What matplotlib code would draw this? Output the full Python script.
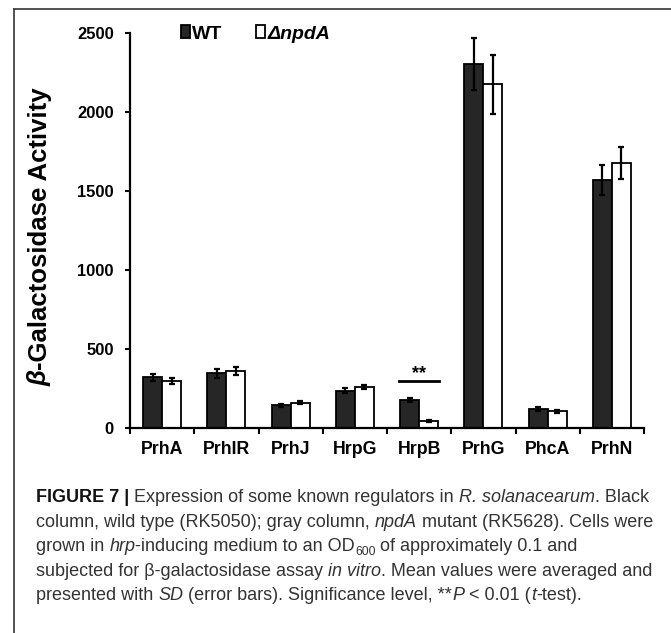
import matplotlib
matplotlib.use('Agg')
import matplotlib.pyplot as plt
import numpy as np
from matplotlib.lines import Line2D
from matplotlib import font_manager

# ---------------- data ----------------
categories = ['PrhA', 'PrhIR', 'PrhJ', 'HrpG', 'HrpB', 'PrhG', 'PhcA', 'PrhN']
wt_values = [320, 345, 143, 236, 175, 2305, 120, 1570]
wt_err = [20, 27, 10, 15, 12, 165, 10, 95]
mut_values = [299, 362, 160, 257, 45, 2175, 105, 1677]
mut_err = [18, 27, 8, 12, 8, 185, 8, 100]
series_labels = ['WT', 'ΔnpdA']
yticks = [0, 500, 1000, 1500, 2000, 2500]
sig_index = 4
sig_level = 300
sig_text = '**'
ylabel_pieces = [('β', 'bi'), ('-Galactosidase Activity', 'b')]

caption_lines = [
    [('FIGURE 7 |', 'b'), (' Expression of some known regulators in ', 'r'), ('R. solanacearum', 'i'), ('. Black', 'r')],
    [('column, wild type (RK5050); gray column, ', 'r'), ('npdA', 'i'), (' mutant (RK5628). Cells were', 'r')],
    [('grown in ', 'r'), ('hrp', 'i'), ('-inducing medium to an OD', 'r'), ('600', 'sub'), (' of approximately 0.1 and', 'r')],
    [('subjected for β-galactosidase assay ', 'r'), ('in vitro', 'i'), ('. Mean values were averaged and', 'r')],
    [('presented with ', 'r'), ('SD', 'i'), (' (error bars). Significance level, **', 'r'), ('P', 'i'),
     (' < 0.01 (', 'r'), ('t', 'i'), ('-test).', 'r')],
]

# ---------------- figure ----------------
W, H = 671, 633
FONT = 'Liberation Sans'
names = {f.name for f in font_manager.fontManager.ttflist}
NARROW = 'Liberation Sans Narrow' if 'Liberation Sans Narrow' in names else FONT
narrow_scale = 1.0 if NARROW != FONT else 0.85

fig = plt.figure(figsize=(W / 100, H / 100), dpi=100)
fig.patch.set_facecolor('white')
ax = fig.add_axes([130 / W, 1 - 428 / H, 514 / W, 395 / H])

x = np.arange(len(categories))
bw = 0.295
b1 = ax.bar(x - bw / 2, wt_values, bw, color='#262626', edgecolor='black', linewidth=1.3, zorder=2)
b2 = ax.bar(x + bw / 2, mut_values, bw, color='white', edgecolor='black', linewidth=1.3, zorder=2)
ax.errorbar(x - bw / 2, wt_values, yerr=wt_err, fmt='none', ecolor='black', elinewidth=1.6,
            capsize=2, capthick=1.6, zorder=3)
ax.errorbar(x + bw / 2, mut_values, yerr=mut_err, fmt='none', ecolor='black', elinewidth=1.6,
            capsize=2, capthick=1.6, zorder=3)

ax.set_xlim(-0.5, len(categories) - 0.5)
ax.set_ylim(0, 2500)
for s in ['top', 'right']:
    ax.spines[s].set_visible(False)
for s in ['left', 'bottom']:
    ax.spines[s].set_linewidth(1.6)
    ax.spines[s].set_color('black')

ax.set_yticks(yticks)
ax.set_yticklabels([str(v) for v in yticks], fontfamily=NARROW, fontweight='bold',
                   fontsize=14 * narrow_scale)
ax.tick_params(axis='y', direction='out', length=3.6, width=1.5, pad=8)
ax.set_xticks(x)
ax.set_xticklabels(categories, fontfamily=NARROW, fontweight='bold', fontsize=15 * narrow_scale)
ax.tick_params(axis='x', which='major', length=0, pad=9)
ax.set_xticks(np.arange(-0.5, len(categories), 1), minor=True)
ax.tick_params(axis='x', which='minor', direction='out', length=4.5, width=1.5)

# significance
ax.plot([sig_index - 0.31, sig_index + 0.31], [sig_level, sig_level], color='black', lw=2, zorder=3)
ax.text(sig_index, sig_level + 14, sig_text, ha='center', va='baseline', fontfamily=FONT,
        fontweight='bold', fontsize=13)

# legend
leg = ax.legend(handles=[b1, b2], labels=series_labels, ncol=2, loc='center left',
                bbox_to_anchor=(181 / W, 1 - 34 / H), bbox_transform=fig.transFigure,
                frameon=False, borderpad=0, borderaxespad=0, handlelength=0.45, handleheight=0.6,
                handletextpad=0.12, columnspacing=1.75,
                prop={'family': FONT, 'weight': 'bold', 'size': 14})
leg.get_texts()[1].set_fontstyle('italic')

# ---------------- text helpers ----------------
renderer = fig.canvas.get_renderer()


def style_kw(style, size, color):
    kw = dict(family=FONT, size=size, color=color)
    if 'b' in style and style != 'sub':
        kw['weight'] = 'bold'
    if 'i' in style:
        kw['style'] = 'italic'
    return kw


def text_width(s, kw):
    t1 = fig.text(0, 0, 'x' + s + 'x', **kw)
    t2 = fig.text(0, 0, 'xx', **kw)
    w = t1.get_window_extent(renderer).width - t2.get_window_extent(renderer).width
    t1.remove()
    t2.remove()
    return w


# y label (rotated pieces)
ylab_size = 18.5
ylab_kws = [style_kw(st, ylab_size, 'black') for _, st in ylabel_pieces]
widths = [text_width(s, kw) for (s, _), kw in zip(ylabel_pieces, ylab_kws)]
total = sum(widths)
center_y = H - 237
base_x = 47
ypos = center_y - total / 2
for (s, _), kw, w in zip(ylabel_pieces, ylab_kws, widths):
    fig.text(base_x / W, ypos / H, s, rotation=90, rotation_mode='anchor', ha='left',
             va='baseline', **kw)
    ypos += w

# caption
cap_size = 13.0
x0 = 36
baselines = [502, 526.6, 551.2, 575.8, 600.4]
for pieces, bl in zip(caption_lines, baselines):
    xp = x0
    for s, st in pieces:
        if st == 'sub':
            kw = style_kw('r', cap_size * 0.68, '#333333')
            yb = H - bl - 3.5
        else:
            kw = style_kw(st, cap_size, '#111111' if st == 'b' else '#333333')
            yb = H - bl
        fig.text(xp / W, yb / H, s, ha='left', va='baseline', **kw)
        xp += text_width(s, kw)

# frame lines
fc = '#444444'
fig.add_artist(Line2D([14 / W, 1], [1 - 8.5 / H, 1 - 8.5 / H], transform=fig.transFigure, color=fc, lw=1.3))
fig.add_artist(Line2D([14 / W, 14 / W], [0, 1 - 8.5 / H], transform=fig.transFigure, color=fc, lw=1.3))

fig.savefig('out.png', dpi=100, facecolor='white')
